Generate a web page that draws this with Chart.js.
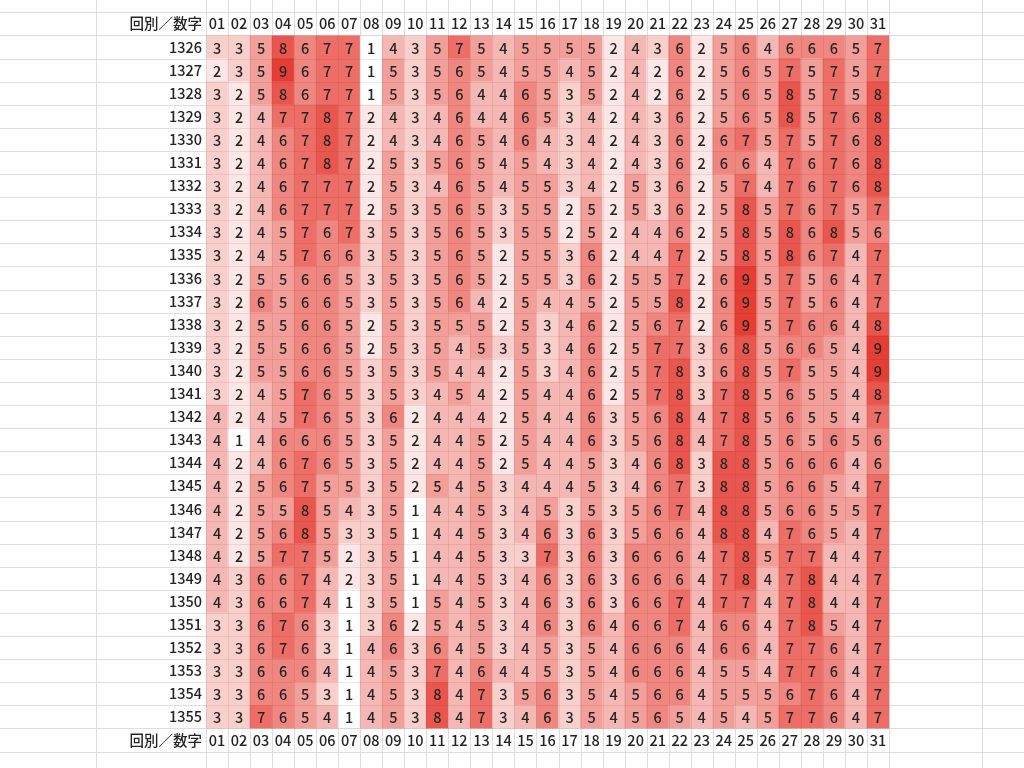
<!DOCTYPE html>
<html><head><meta charset="utf-8">
<script src="https://cdn.jsdelivr.net/npm/chart.js@4.4.0/dist/chart.umd.min.js"></script>
<style>html,body{margin:0;padding:0;background:#fff;overflow:hidden}canvas{display:block}</style>
</head><body>
<canvas id="c" width="1024" height="768" style="width:1024px;height:768px"></canvas>
<script>
const rounds = ['1326','1327','1328','1329','1330','1331','1332','1333','1334','1335','1336','1337','1338','1339','1340','1341','1342','1343','1344','1345','1346','1347','1348','1349','1350','1351','1352','1353','1354','1355'];
const numbers = ['01','02','03','04','05','06','07','08','09','10','11','12','13','14','15','16','17','18','19','20','21','22','23','24','25','26','27','28','29','30','31'];
const cornerLabel = '回別／数字';
const counts = [
  [3,3,5,8,6,7,7,1,4,3,5,7,5,4,5,5,5,5,2,4,3,6,2,5,6,4,6,6,6,5,7],
  [2,3,5,9,6,7,7,1,5,3,5,6,5,4,5,5,4,5,2,4,2,6,2,5,6,5,7,5,7,5,7],
  [3,2,5,8,6,7,7,1,5,3,5,6,4,4,6,5,3,5,2,4,2,6,2,5,6,5,8,5,7,5,8],
  [3,2,4,7,7,8,7,2,4,3,4,6,4,4,6,5,3,4,2,4,3,6,2,5,6,5,8,5,7,6,8],
  [3,2,4,6,7,8,7,2,4,3,4,6,5,4,6,4,3,4,2,4,3,6,2,6,7,5,7,5,7,6,8],
  [3,2,4,6,7,8,7,2,5,3,5,6,5,4,5,4,3,4,2,4,3,6,2,6,6,4,7,6,7,6,8],
  [3,2,4,6,7,7,7,2,5,3,4,6,5,4,5,5,3,4,2,5,3,6,2,5,7,4,7,6,7,6,8],
  [3,2,4,6,7,7,7,2,5,3,5,6,5,3,5,5,2,5,2,5,3,6,2,5,8,5,7,6,7,5,7],
  [3,2,4,5,7,6,7,3,5,3,5,6,5,3,5,5,2,5,2,4,4,6,2,5,8,5,8,6,8,5,6],
  [3,2,4,5,7,6,6,3,5,3,5,6,5,2,5,5,3,6,2,4,4,7,2,5,8,5,8,6,7,4,7],
  [3,2,5,5,6,6,5,3,5,3,5,6,5,2,5,5,3,6,2,5,5,7,2,6,9,5,7,5,6,4,7],
  [3,2,6,5,6,6,5,3,5,3,5,6,4,2,5,4,4,5,2,5,5,8,2,6,9,5,7,5,6,4,7],
  [3,2,5,5,6,6,5,2,5,3,5,5,5,2,5,3,4,6,2,5,6,7,2,6,9,5,7,6,6,4,8],
  [3,2,5,5,6,6,5,2,5,3,5,4,5,3,5,3,4,6,2,5,7,7,3,6,8,5,6,6,5,4,9],
  [3,2,5,5,6,6,5,3,5,3,5,4,4,2,5,3,4,6,2,5,7,8,3,6,8,5,7,5,5,4,9],
  [3,2,4,5,7,6,5,3,5,3,4,5,4,2,5,4,4,6,2,5,7,8,3,7,8,5,6,5,5,4,8],
  [4,2,4,5,7,6,5,3,6,2,4,4,4,2,5,4,4,6,3,5,6,8,4,7,8,5,6,5,5,4,7],
  [4,1,4,6,6,6,5,3,5,2,4,4,5,2,5,4,4,6,3,5,6,8,4,7,8,5,6,5,6,5,6],
  [4,2,4,6,7,6,5,3,5,2,4,4,5,2,5,4,4,5,3,4,6,8,3,8,8,5,6,6,6,4,6],
  [4,2,5,6,7,5,5,3,5,2,5,4,5,3,4,4,4,5,3,4,6,7,3,8,8,5,6,6,5,4,7],
  [4,2,5,5,8,5,4,3,5,1,4,4,5,3,4,5,3,5,3,5,6,7,4,8,8,5,6,6,5,5,7],
  [4,2,5,6,8,5,3,3,5,1,4,4,5,3,4,6,3,6,3,5,6,6,4,8,8,4,7,6,5,4,7],
  [4,2,5,7,7,5,2,3,5,1,4,4,5,3,3,7,3,6,3,6,6,6,4,7,8,5,7,7,4,4,7],
  [4,3,6,6,7,4,2,3,5,1,4,4,5,3,4,6,3,6,3,6,6,6,4,7,8,4,7,8,4,4,7],
  [4,3,6,6,7,4,1,3,5,1,5,4,5,3,4,6,3,6,3,6,6,7,4,7,7,4,7,8,4,4,7],
  [3,3,6,7,6,3,1,3,6,2,5,4,5,3,4,6,3,6,4,6,6,7,4,6,6,4,7,8,5,4,7],
  [3,3,6,7,6,3,1,4,6,3,6,4,5,3,4,5,3,5,4,6,6,6,4,6,6,4,7,7,6,4,7],
  [3,3,6,6,6,4,1,4,5,3,7,4,6,4,4,5,3,5,4,6,6,6,4,5,5,4,7,7,6,4,7],
  [3,3,6,6,5,3,1,4,5,3,8,4,7,3,5,6,3,5,4,5,6,6,4,5,5,5,6,7,6,4,7],
  [3,3,7,6,5,4,1,4,5,3,8,4,7,3,4,6,3,5,4,5,6,5,4,5,4,5,7,7,6,4,7]
];

const minCount = 1, maxCount = 9;
const lowColor = [255,255,255], highColor = [229,62,52];
function cellColor(v) {
  const t = Math.max(0, Math.min(1, (v - minCount) / (maxCount - minCount)));
  const c = lowColor.map((l, k) => Math.round(l + (highColor[k] - l) * t));
  return `rgb(${c[0]},${c[1]},${c[2]})`;
}

const cells = [];
rounds.forEach((r, i) => numbers.forEach((n, j) => {
  cells.push({x: n, y: [i - 0.5, i + 0.5], v: counts[i][j]});
}));

const FONT = '"Noto Sans CJK JP", "Noto Sans", sans-serif';
const TEXT = '#242424';
const ROW_H = 23.1;

const sheetGrid = {
  id: 'sheetGrid',
  beforeDraw(chart) {
    const ctx = chart.ctx, ys = chart.scales.y, xs = chart.scales.x;
    const W = chart.width, H = chart.height;
    ctx.save();
    ctx.fillStyle = '#ffffff';
    ctx.fillRect(0, 0, W, H);
    ctx.strokeStyle = '#dedede';
    ctx.lineWidth = 1;
    ctx.beginPath();
    for (let k = -3; k <= 33; k++) {
      const y = ys.getPixelForValue(k - 0.5);
      if (y < 0 || y > H) continue;
      const py = Math.round(y) + 0.5;
      ctx.moveTo(0, py); ctx.lineTo(W, py);
    }
    for (let j = 0; j <= numbers.length; j++) {
      const x = Math.round(xs.getPixelForValue(j - 0.5)) + 0.5;
      ctx.moveTo(x, 0); ctx.lineTo(x, H);
    }
    [96.5, 982.5].forEach(x => { ctx.moveTo(x, 0); ctx.lineTo(x, H); });
    ctx.stroke();
    ctx.restore();
  },
  afterDatasetsDraw(chart) {
    const ctx = chart.ctx, ys = chart.scales.y, xs = chart.scales.x, a = chart.chartArea;
    ctx.save();
    ctx.strokeStyle = 'rgba(120,40,40,0.10)';
    ctx.lineWidth = 1;
    ctx.beginPath();
    for (let k = 0; k <= rounds.length; k++) {
      const py = Math.round(ys.getPixelForValue(k - 0.5)) + 0.5;
      ctx.moveTo(a.left, py); ctx.lineTo(a.right, py);
    }
    for (let j = 0; j <= numbers.length; j++) {
      const x = Math.round(xs.getPixelForValue(j - 0.5)) + 0.5;
      ctx.moveTo(x, a.top); ctx.lineTo(x, a.bottom);
    }
    ctx.stroke();
    ctx.fillStyle = TEXT;
    ctx.font = '500 14.5px ' + FONT;
    ctx.textAlign = 'center';
    ctx.textBaseline = 'middle';
    const meta = chart.getDatasetMeta(0);
    meta.data.forEach((el, idx) => {
      const p = el.getCenterPoint();
      ctx.fillText(String(cells[idx].v), p.x, p.y + 1);
    });
    ctx.restore();
  }
};

const tickFont = {family: FONT, size: 14.5, weight: '500'};

new Chart(document.getElementById('c'), {
  type: 'bar',
  data: {
    labels: numbers,
    datasets: [{
      data: cells,
      parsing: {xAxisKey: 'x', yAxisKey: 'y'},
      backgroundColor: ctx => cellColor(ctx.raw ? ctx.raw.v : minCount),
      borderWidth: 0,
      categoryPercentage: 1,
      barPercentage: 1,
      grouped: false,
      xAxisID: 'x',
      yAxisID: 'y'
    }]
  },
  options: {
    responsive: false,
    animation: false,
    devicePixelRatio: 1,
    layout: {padding: {left: 0, right: 135, top: 12.35, bottom: 16.45}},
    plugins: {legend: {display: false}, tooltip: {enabled: false}, title: {display: false}},
    scales: {
      x: {
        type: 'category', position: 'bottom', labels: numbers, offset: true,
        grid: {display: false, drawTicks: false}, border: {display: false},
        ticks: {color: TEXT, font: tickFont, padding: 3, maxRotation: 0, autoSkip: false},
        afterFit: s => { s.height = ROW_H; }
      },
      xTop: {
        type: 'category', position: 'top', labels: numbers, offset: true,
        grid: {display: false, drawTicks: false}, border: {display: false},
        ticks: {color: TEXT, font: tickFont, padding: 3, maxRotation: 0, autoSkip: false},
        afterFit: s => { s.height = ROW_H; }
      },
      y: {
        type: 'linear', position: 'left', min: -0.5, max: 29.5, reverse: true,
        grid: {display: false, drawTicks: false}, border: {display: false},
        afterBuildTicks: s => { s.ticks = [-1, ...rounds.map((r, i) => i), rounds.length].map(v => ({value: v})); },
        ticks: {
          color: TEXT, font: tickFont, padding: 4, autoSkip: false,
          callback: v => (v === -1 || v === rounds.length) ? cornerLabel : rounds[v]
        },
        afterFit: s => { s.width = 206; }
      }
    }
  },
  plugins: [sheetGrid]
});
</script>
</body></html>
